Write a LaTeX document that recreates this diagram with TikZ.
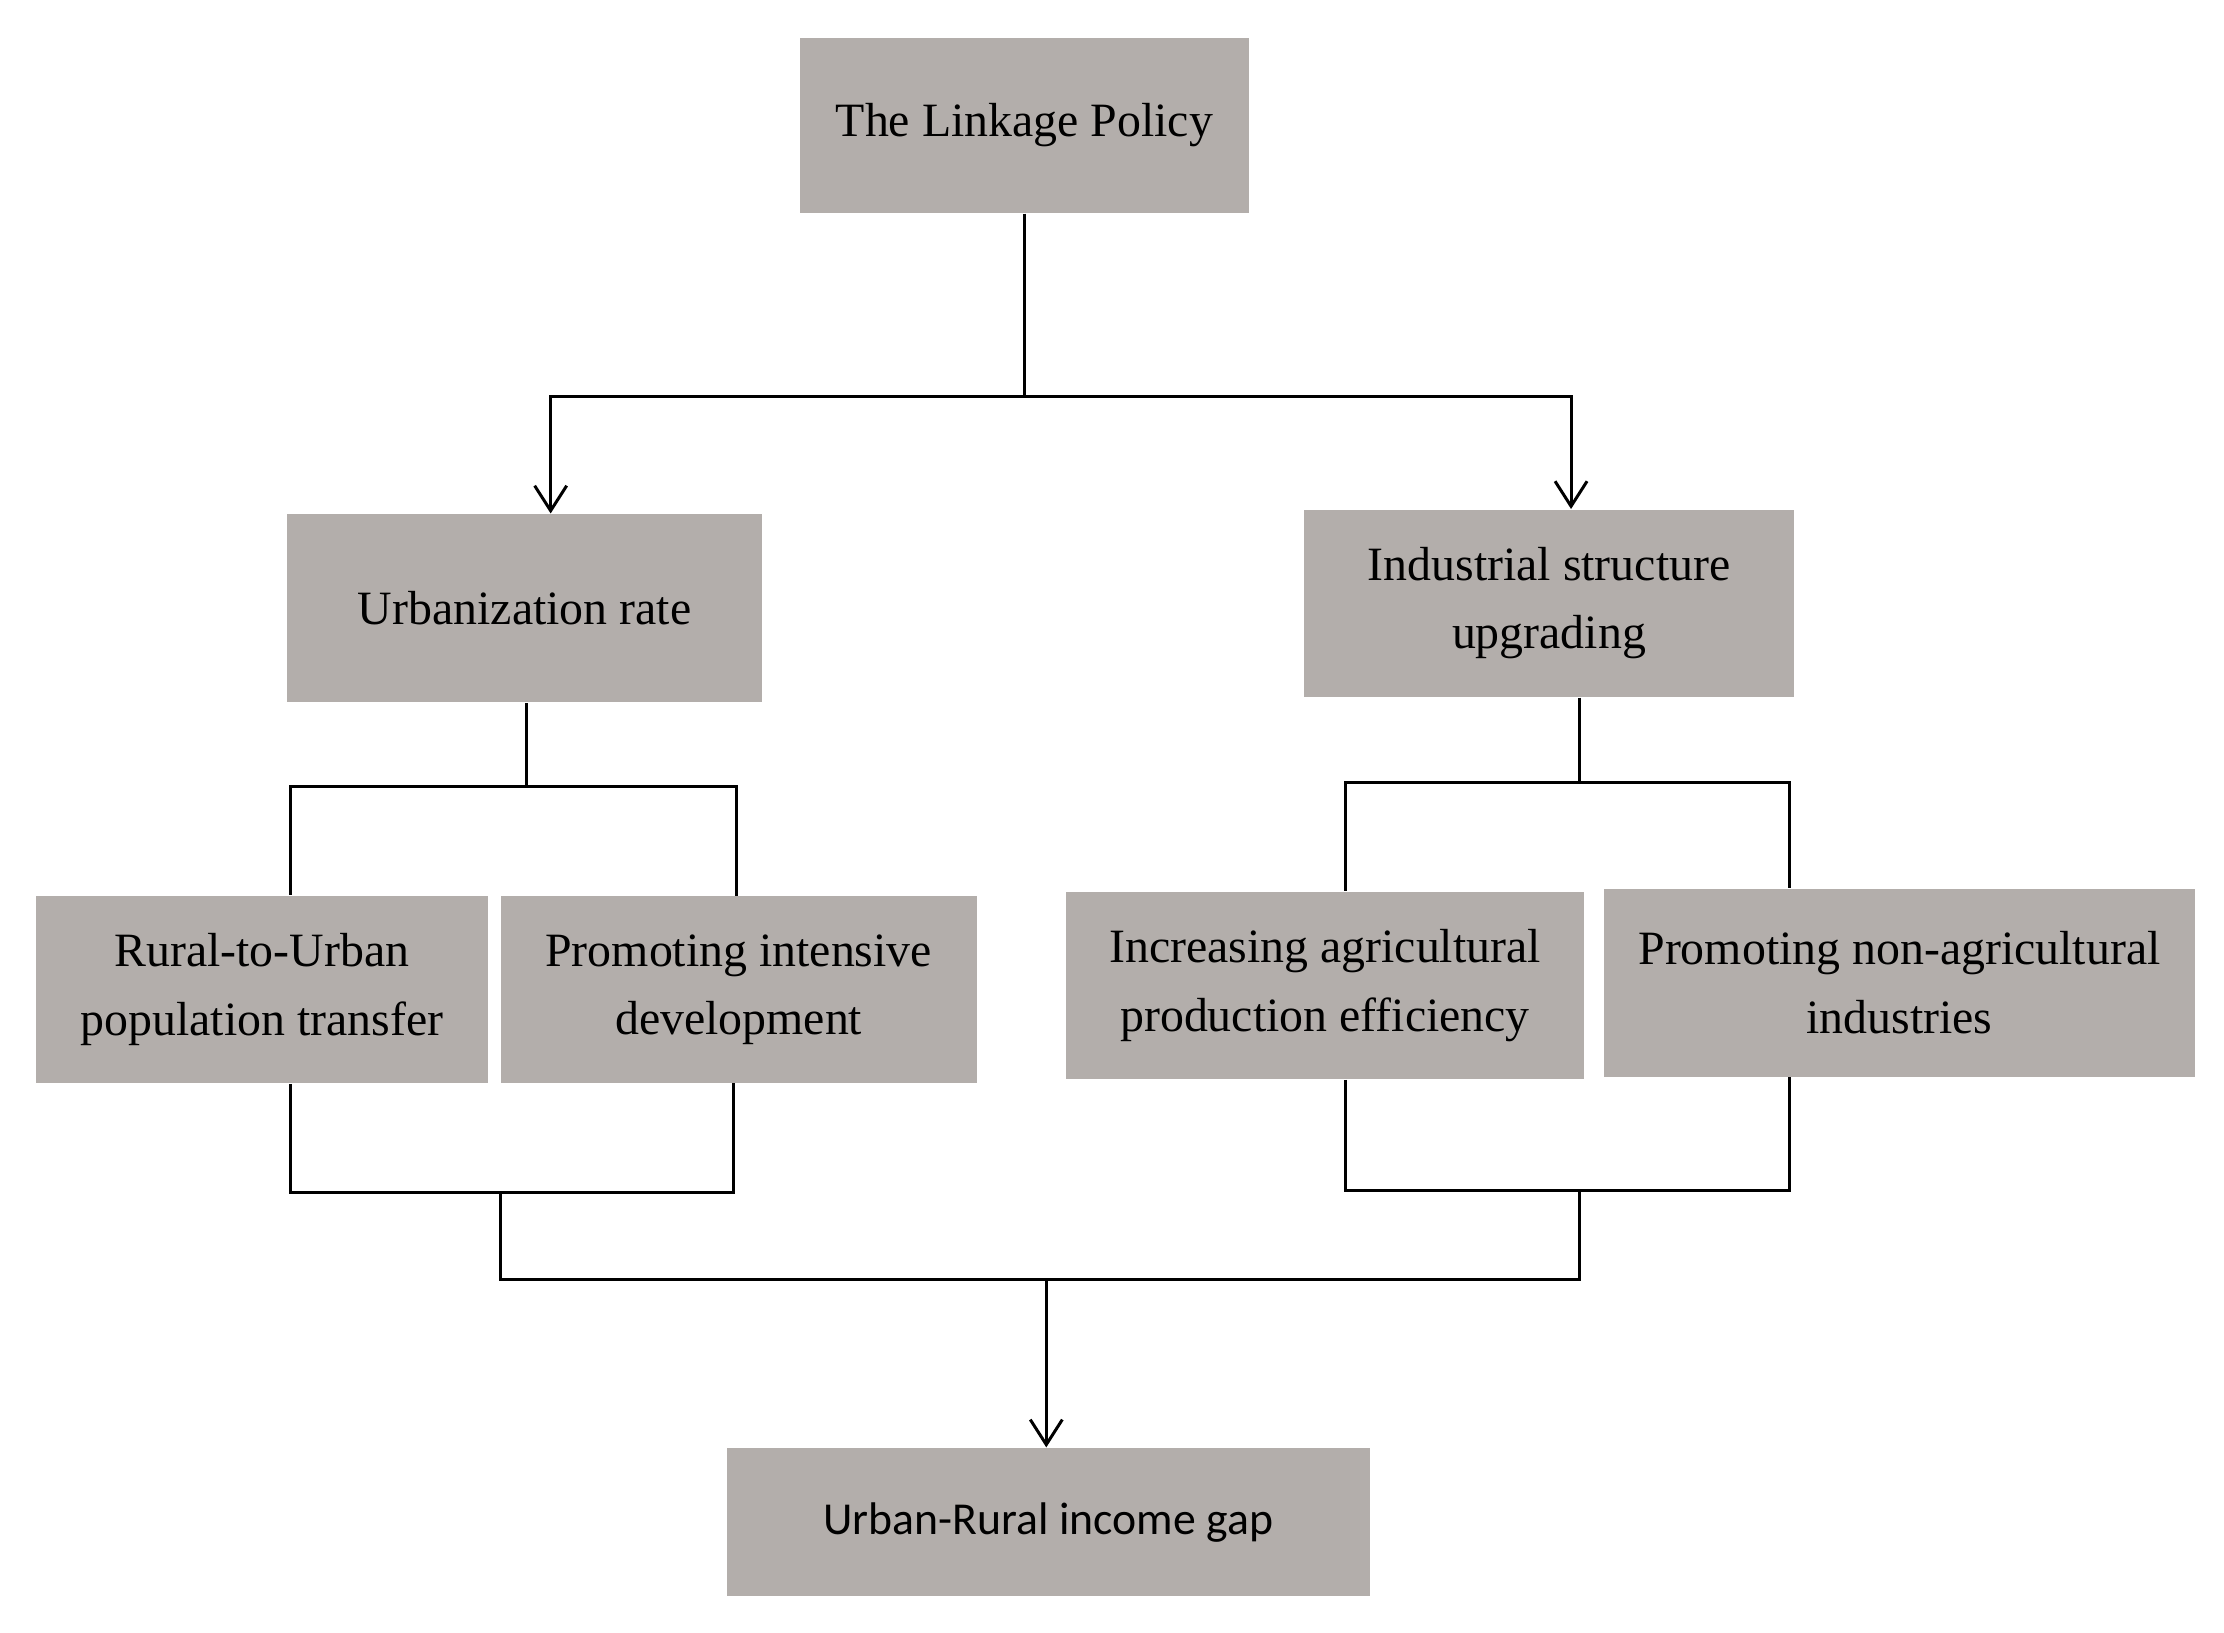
\documentclass[tikz,border=0pt]{standalone}
\usepackage{fontspec}
\setmainfont{Liberation Serif}
\newfontfamily\gapfont{Carlito}
\usetikzlibrary{arrows.meta}

\begin{document}
\begin{tikzpicture}[x=0.009955cm, y=-0.009955cm]
		\tikzstyle {factor box} = [fill=boxgray, inner sep=0pt, align=center, font=\fontsize{13.6}{19.4}\selectfont]
		\tikzstyle {link line} = [line width=0.85pt]
		\tikzstyle {link arrow} = [link line, -{Straight Barb[length=0.25cm, width=0.32cm, line width=0.85pt]}]
		\definecolor{boxgray}{RGB}{179,174,171}

		\useasboundingbox (0,0) rectangle (2234,1639.4);

		\node[factor box, minimum width=4.49cm, minimum height=1.75cm] (policy) at (1029,126) {The Linkage Policy};

		\node[factor box, minimum width=4.75cm, minimum height=1.88cm] (urban) at (527,611) {Urbanization rate};
		\node[factor box, minimum width=4.90cm, minimum height=1.87cm] (industry) at (1556,606) {Industrial structure\\upgrading};

		\node[factor box, minimum width=4.52cm, minimum height=1.87cm] (rural) at (263,994) {Rural-to-Urban\\population transfer};
		\node[factor box, minimum width=4.76cm, minimum height=1.86cm] (intensive) at (742,994) {Promoting intensive\\development};
		\node[factor box, minimum width=5.18cm, minimum height=1.87cm] (agri) at (1331,990) {Increasing agricultural\\production efficiency};
		\node[factor box, minimum width=5.90cm, minimum height=1.88cm] (nonagri) at (1908,987) {Promoting non-agricultural\\industries};

		\node[factor box, minimum width=6.43cm, minimum height=1.48cm, font=\gapfont\fontsize{13}{16}\selectfont] (gap) at (1053,1529) {Urban-Rural income gap};

		\coordinate (top split) at (1029,398);
		\coordinate (urban split) at (529,790);
		\coordinate (industry split) at (1587,786);
		\coordinate (urban join) at (503,1198);
		\coordinate (industry join) at (1587,1196);
		\coordinate (all join) at (1051,1285);

		\draw[link line] (policy.south) -- (top split);
		\draw[link arrow] (top split) -| ([xshift=0.26cm]urban.north);
		\draw[link arrow] (top split) -| ([xshift=0.22cm]industry.north);

		\draw[link line] (urban.south -| urban split) -- (urban split);
		\draw[link line] (urban split) -| ([xshift=0.29cm]rural.north);
		\draw[link line] (urban split) -| ([xshift=-0.02cm]intensive.north);

		\draw[link line] (industry.south -| industry split) -- (industry split);
		\draw[link line] (industry split) -| ([xshift=0.20cm]agri.north);
		\draw[link line] (industry split) -| ([xshift=-1.10cm]nonagri.north);

		\draw[link line] ([xshift=0.29cm]rural.south) |- (urban join);
		\draw[link line] ([xshift=-0.05cm]intensive.south) |- (urban join);
		\draw[link line] ([xshift=0.20cm]agri.south) |- (industry join);
		\draw[link line] ([xshift=-1.10cm]nonagri.south) |- (industry join);

		\draw[link line] (urban join) |- (all join);
		\draw[link line] (industry join) |- (all join);
		\draw[link arrow] (all join) -- (gap.north -| all join);
\end{tikzpicture}
\end{document}
